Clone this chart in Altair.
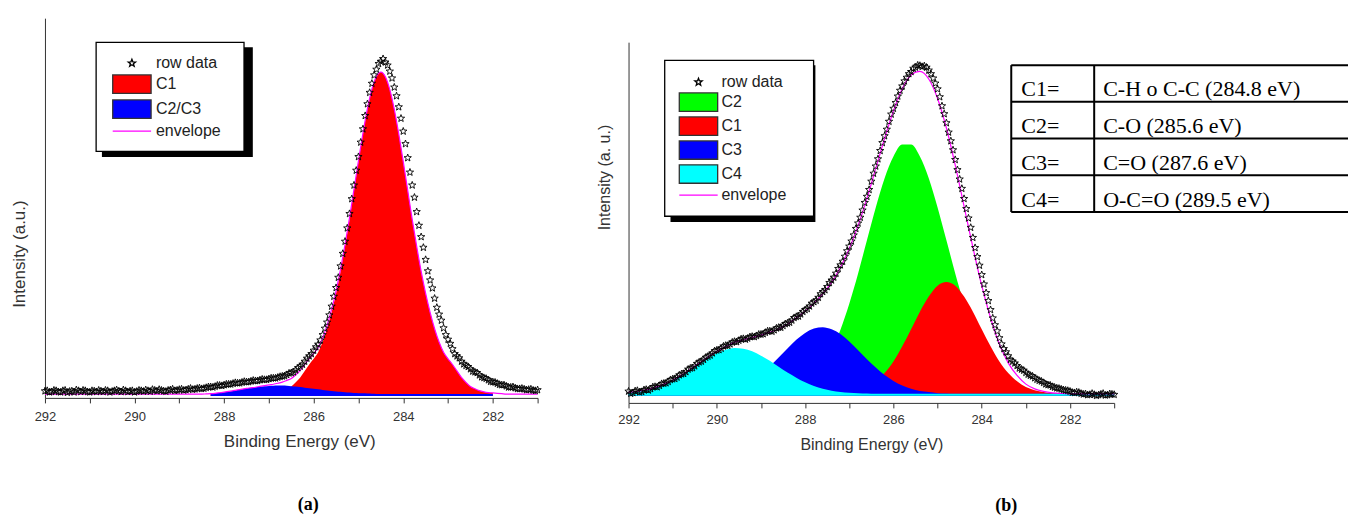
import altair as alt
import pandas as pd

# ---------------- data ----------------
energy_grid = [
    292.0, 291.9, 291.8, 291.7, 291.6, 291.5, 291.4, 291.3, 291.2, 291.1,
    291.0, 290.9, 290.8, 290.7, 290.6, 290.5, 290.4, 290.3, 290.2, 290.1,
    290.0, 289.9, 289.8, 289.7, 289.6, 289.5, 289.4, 289.3, 289.2, 289.1,
    289.0, 288.9, 288.8, 288.7, 288.6, 288.5, 288.4, 288.3, 288.2, 288.1,
    288.0, 287.9, 287.8, 287.7, 287.6, 287.5, 287.4, 287.3, 287.2, 287.1,
    287.0, 286.9, 286.8, 286.7, 286.6, 286.5, 286.4, 286.3, 286.2, 286.1,
    286.0, 285.9, 285.8, 285.7, 285.6, 285.5, 285.4, 285.3, 285.2, 285.1,
    285.0, 284.9, 284.8, 284.7, 284.6, 284.5, 284.4, 284.3, 284.2, 284.1,
    284.0, 283.9, 283.8, 283.7, 283.6, 283.5, 283.4, 283.3, 283.2, 283.1,
    283.0, 282.9, 282.8, 282.7, 282.6, 282.5, 282.4, 282.3, 282.2, 282.1,
    282.0, 281.9, 281.8, 281.7, 281.6, 281.5, 281.4, 281.3, 281.2, 281.1,
    281.0,
]
energy_grid_mid = [
    291.95, 291.85, 291.75, 291.65, 291.55, 291.45, 291.35, 291.25, 291.15, 291.05,
    290.95, 290.85, 290.75, 290.65, 290.55, 290.45, 290.35, 290.25, 290.15, 290.05,
    289.95, 289.85, 289.75, 289.65, 289.55, 289.45, 289.35, 289.25, 289.15, 289.05,
    288.95, 288.85, 288.75, 288.65, 288.55, 288.45, 288.35, 288.25, 288.15, 288.05,
    287.95, 287.85, 287.75, 287.65, 287.55, 287.45, 287.35, 287.25, 287.15, 287.05,
    286.95, 286.85, 286.75, 286.65, 286.55, 286.45, 286.35, 286.25, 286.15, 286.05,
    285.95, 285.85, 285.75, 285.65, 285.55, 285.45, 285.35, 285.25, 285.15, 285.05,
    284.95, 284.85, 284.75, 284.65, 284.55, 284.45, 284.35, 284.25, 284.15, 284.05,
    283.95, 283.85, 283.75, 283.65, 283.55, 283.45, 283.35, 283.25, 283.15, 283.05,
    282.95, 282.85, 282.75, 282.65, 282.55, 282.45, 282.35, 282.25, 282.15, 282.05,
    281.95, 281.85, 281.75, 281.65, 281.55, 281.45, 281.35, 281.25, 281.15, 281.05,
]

# panel (a)
left_row_data = [
    1.8, 1.5, 2.0, 1.6, 1.9, 1.4, 1.8, 2.1, 1.6, 1.9,
    1.5, 1.8, 2.0, 1.6, 1.9, 1.7, 2.1, 1.6, 1.9, 1.8,
    1.5, 2.0, 1.7, 1.9, 2.2, 1.8, 2.0, 1.7, 2.1, 1.9,
    2.2, 2.0, 2.3, 2.2, 2.5, 2.4, 2.7, 2.9, 3.0, 3.3,
    3.4, 3.6, 3.8, 3.9, 4.1, 4.2, 4.4, 4.5, 4.7, 4.8,
    5.0, 5.2, 5.4, 5.7, 6.1, 6.6, 7.3, 8.3, 9.6, 11.0,
    12.5, 14.1, 16.6, 19.9, 24.1, 29.0, 34.7, 41.2, 48.5, 56.0,
    63.5, 70.8, 77.4, 82.8, 86.5, 88.6, 88.4, 86.0, 81.8, 76.6,
    70.2, 63.2, 56.0, 49.0, 42.4, 36.4, 31.0, 26.2, 22.0, 18.4,
    15.4, 12.9, 11.0, 9.6, 8.5, 7.6, 6.8, 6.0, 5.3, 4.7,
    4.2, 3.8, 3.4, 3.1, 2.8, 2.6, 2.4, 2.3, 2.2, 2.0,
    2.1,
]
left_row_data_mid = [
    1.9, 1.6, 1.9, 1.5, 2.0, 1.7, 1.5, 1.9, 2.0, 1.6,
    1.9, 1.6, 1.8, 2.0, 1.5, 1.9, 1.8, 2.1, 1.6, 1.9,
    1.7, 1.9, 2.1, 1.7, 2.0, 2.2, 1.8, 2.0, 2.3, 2.0,
    2.3, 2.1, 2.5, 2.3, 2.6, 2.5, 2.9, 2.8, 3.3, 3.2,
    3.6, 3.6, 4.0, 3.9, 4.3, 4.2, 4.6, 4.5, 4.9, 4.8,
    5.2, 5.2, 5.6, 5.8, 6.5, 6.8, 7.9, 8.8, 10.4, 11.6,
    13.4, 15.2, 18.3, 21.8, 26.7, 31.7, 38.0, 44.7, 52.4, 59.9,
    67.3, 74.3, 80.4, 85.0, 88.0, 89.3, 87.6, 84.2, 79.5, 73.6,
    66.9, 59.4, 52.8, 45.4, 39.6, 33.4, 28.9, 23.8, 20.4, 16.6,
    14.3, 11.6, 10.5, 8.9, 8.2, 7.0, 6.6, 5.5, 5.1, 4.3,
    4.1, 3.5, 3.4, 2.8, 2.9, 2.4, 2.5, 2.1, 2.3, 1.9,
]
left_envelope = [
    1.0, 1.0, 1.0, 1.0, 1.0, 1.0, 1.0, 1.0, 1.0, 1.0,
    1.0, 1.0, 1.0, 1.0, 1.0, 1.0, 1.0, 1.0, 1.0, 1.0,
    1.0, 1.0, 1.0, 1.0, 1.0, 1.0, 1.0, 1.0, 1.0, 1.0,
    1.0, 1.0, 1.0, 1.0, 1.0, 1.0, 1.05, 1.1, 1.2, 1.35,
    1.5, 1.7, 1.9, 2.1, 2.3, 2.5, 2.65, 2.8, 3.05, 3.25,
    3.45, 3.6, 3.85, 4.15, 4.6, 5.1, 6.1, 7.25, 8.8, 10.35,
    11.7, 13.25, 15.8, 19.15, 23.3, 28.2, 33.9, 40.4, 47.4, 54.9,
    62.45, 69.7, 76.15, 81.3, 84.65, 85.8, 84.6, 81.2, 76.0, 69.5,
    62.2, 54.6, 47.0, 39.9, 33.3, 27.5, 22.5, 18.2, 14.7, 12.0,
    10.3, 8.8, 7.1, 5.4, 4.1, 3.0, 2.4, 1.9, 1.6, 1.4,
    1.3, 1.2, 1.1, 1.0, 1.0, 1.0, 1.0, 1.0, 1.0, 1.0,
    1.0,
]
left_fit_energy = [
    288.3, 288.2, 288.1, 288.0, 287.9, 287.8, 287.7, 287.6, 287.5, 287.4,
    287.3, 287.2, 287.1, 287.0, 286.9, 286.8, 286.7, 286.6, 286.5, 286.4,
    286.3, 286.2, 286.1, 286.0, 285.9, 285.8, 285.7, 285.6, 285.5, 285.4,
    285.3, 285.2, 285.1, 285.0, 284.9, 284.8, 284.7, 284.6, 284.5, 284.4,
    284.3, 284.2, 284.1, 284.0, 283.9, 283.8, 283.7, 283.6, 283.5, 283.4,
    283.3, 283.2, 283.1, 283.0, 282.9, 282.8, 282.7, 282.6, 282.5, 282.4,
    282.3, 282.2, 282.1, 282.0,
]
left_c1 = [
    1.0, 1.0, 1.0, 1.0, 1.0, 1.0, 1.0, 1.0, 1.0, 1.0,
    1.0, 1.1, 1.2, 1.3, 1.4, 1.6, 1.9, 2.4, 3.0, 4.1,
    5.4, 7.1, 8.8, 10.3, 12.0, 14.7, 18.2, 22.5, 27.5, 33.3,
    39.9, 47.0, 54.6, 62.2, 69.5, 76.0, 81.2, 84.6, 85.8, 84.6,
    81.2, 76.0, 69.5, 62.2, 54.6, 47.0, 39.9, 33.3, 27.5, 22.5,
    18.2, 14.7, 12.0, 10.3, 8.8, 7.1, 5.4, 4.1, 3.0, 2.4,
    1.9, 1.6, 1.4, 1.3,
]
left_c2c3 = [
    1.1, 1.2, 1.35, 1.5, 1.7, 1.9, 2.1, 2.3, 2.5, 2.65,
    2.8, 2.95, 3.05, 3.15, 3.2, 3.25, 3.25, 3.2, 3.1, 3.0,
    2.85, 2.7, 2.55, 2.4, 2.25, 2.1, 1.95, 1.8, 1.7, 1.6,
    1.5, 1.4, 1.3, 1.25, 1.2, 1.15, 1.1, 1.05, 1.0, 1.0,
    1.0, 1.0, 1.0, 1.0, 1.0, 1.0, 1.0, 1.0, 1.0, 1.0,
    1.0, 1.0, 1.0, 1.0, 1.0, 1.0, 1.0, 1.0, 1.0, 1.0,
    1.0, 1.0, 1.0, 1.0,
]

# panel (b)
right_row_data = [
    3.2, 2.8, 3.4, 3.1, 3.7, 3.9, 4.5, 4.8, 5.4, 5.9,
    6.6, 7.1, 8.0, 8.6, 9.6, 10.2, 11.3, 12.0, 12.9, 13.8,
    14.6, 15.1, 15.9, 16.3, 17.0, 17.3, 17.8, 17.9, 18.4, 18.6,
    19.0, 19.5, 19.9, 20.2, 20.9, 21.4, 22.1, 22.9, 23.9, 24.6,
    25.8, 26.8, 28.0, 29.2, 30.8, 32.2, 34.0, 35.9, 38.2, 40.6,
    43.4, 46.5, 49.8, 53.4, 57.2, 61.4, 65.6, 69.9, 74.0, 78.0,
    81.6, 85.0, 87.8, 90.2, 91.8, 93.0, 93.5, 93.4, 92.2, 90.0,
    87.0, 82.3, 77.6, 72.6, 67.4, 62.0, 56.6, 51.2, 45.8, 40.5,
    35.5, 30.5, 25.8, 21.6, 18.0, 15.0, 13.0, 11.5, 10.3, 9.3,
    8.4, 7.6, 6.9, 6.2, 5.6, 5.0, 4.5, 4.1, 3.8, 3.5,
    3.2, 2.8, 2.9, 2.4, 2.2, 2.6, 2.0, 2.4, 2.1, 2.5,
    2.3,
]
right_row_data_mid = [
    2.6, 3.3, 3.0, 3.6, 3.5, 4.4, 4.4, 5.3, 5.5, 6.4,
    6.7, 7.7, 8.1, 9.3, 9.7, 10.9, 11.5, 12.6, 13.2, 14.4,
    14.7, 15.7, 15.9, 16.8, 16.9, 17.7, 17.6, 18.3, 18.3, 19.0,
    19.1, 19.9, 19.8, 20.7, 20.9, 21.9, 22.3, 23.6, 24.0, 25.3,
    26.1, 27.6, 28.4, 30.2, 31.3, 33.3, 34.8, 37.2, 39.2, 42.1,
    44.8, 48.3, 51.4, 55.5, 59.1, 63.6, 67.6, 72.1, 75.8, 80.0,
    83.2, 86.6, 89.2, 91.2, 92.7, 93.6, 93.2, 93.0, 91.2, 88.6,
    84.8, 80.1, 75.0, 70.1, 64.6, 59.4, 53.8, 48.6, 43.0, 38.1,
    32.9, 28.3, 23.5, 19.9, 16.3, 14.1, 12.0, 11.0, 9.6, 9.0,
    7.9, 7.4, 6.5, 6.0, 5.2, 4.9, 4.3, 4.0, 3.6, 3.4,
    2.9, 3.0, 2.6, 2.5, 2.3, 2.3, 2.2, 2.6, 2.2, 2.4,
]
right_fit_energy = [
    292.0, 291.8, 291.6, 291.4, 291.2, 291.0, 290.8, 290.6, 290.4, 290.2,
    290.0, 289.8, 289.6, 289.4, 289.2, 289.0, 288.8, 288.6, 288.4, 288.2,
    288.0, 287.8, 287.6, 287.4, 287.2, 287.0, 286.8, 286.6, 286.4, 286.2,
    286.0, 285.8, 285.6, 285.4, 285.2, 285.0, 284.8, 284.6, 284.4, 284.2,
    284.0, 283.8, 283.6, 283.4, 283.2, 283.0, 282.8, 282.6, 282.4, 282.2,
    282.0, 281.8, 281.6, 281.4, 281.2, 281.0,
]
right_c2 = [
    2.5, 2.5, 2.5, 2.5, 2.5, 2.5, 2.5, 2.5, 2.5, 2.5,
    2.5, 2.5, 2.5, 2.5, 2.5, 2.6, 2.7, 2.9, 3.3, 4.1,
    5.3, 7.3, 10.4, 14.6, 20.3, 27.5, 35.9, 45.1, 54.2, 62.3,
    68.3, 71.6, 71.6, 68.3, 62.3, 54.2, 45.1, 35.9, 27.5, 20.3,
    14.6, 10.4, 7.3, 5.3, 4.1, 3.3, 2.9, 2.7, 2.6, 2.5,
    2.5, 2.5, 2.5, 2.5, 2.5, 2.5,
]
right_c1 = [
    2.5, 2.5, 2.5, 2.5, 2.5, 2.5, 2.5, 2.5, 2.5, 2.5,
    2.5, 2.5, 2.5, 2.5, 2.5, 2.5, 2.5, 2.5, 2.5, 2.5,
    2.5, 2.5, 2.5, 2.5, 2.7, 3.0, 3.5, 4.4, 6.0, 8.3,
    11.5, 15.7, 20.4, 25.3, 29.5, 32.5, 33.5, 32.5, 29.5, 25.3,
    20.4, 15.7, 11.5, 8.3, 6.0, 4.4, 3.5, 3.0, 2.7, 2.6,
    2.5, 2.5, 2.5, 2.5, 2.5, 2.5,
]
right_c3 = [
    2.5, 2.5, 2.5, 2.5, 2.5, 2.5, 2.5, 2.6, 2.6, 2.8,
    3.0, 3.4, 4.1, 5.0, 6.3, 8.1, 10.2, 12.6, 15.1, 17.5,
    19.4, 20.6, 21.0, 20.4, 19.1, 17.0, 14.6, 12.1, 9.8, 7.7,
    6.1, 4.8, 3.9, 3.3, 3.0, 2.7, 2.6, 2.5, 2.5, 2.5,
    2.5, 2.5, 2.5, 2.5, 2.5, 2.5, 2.5, 2.5, 2.5, 2.5,
    2.5, 2.5, 2.5, 2.5, 2.5, 2.5,
]
right_c4 = [
    2.9, 3.2, 3.6, 4.3, 5.2, 6.3, 7.7, 9.2, 10.9, 12.4,
    13.8, 14.7, 15.2, 15.0, 14.3, 13.1, 11.7, 10.0, 8.4, 7.0,
    5.7, 4.7, 3.9, 3.4, 3.0, 2.8, 2.7, 2.6, 2.5, 2.5,
    2.5, 2.5, 2.5, 2.5, 2.5, 2.5, 2.5, 2.5, 2.5, 2.5,
    2.5, 2.5, 2.5, 2.5, 2.5, 2.5, 2.5, 2.5, 2.5, 2.5,
    2.5, 2.5, 2.5, 2.5, 2.5, 2.5,
]
right_envelope = [
    2.9, 3.2, 3.6, 4.3, 5.2, 6.3, 7.7, 9.3, 11.0, 12.7,
    14.3, 15.6, 16.8, 17.5, 18.1, 18.8, 19.6, 20.5, 21.8, 23.6,
    25.4, 27.6, 30.3, 33.4, 37.6, 42.8, 49.2, 56.7, 65.0, 73.3,
    80.9, 87.1, 90.9, 91.9, 89.8, 84.4, 76.2, 65.9, 54.5, 43.1,
    32.5, 23.6, 16.3, 11.1, 7.6, 5.2, 3.9, 3.2, 2.8, 2.6,
    2.5, 2.5, 2.5, 2.5, 2.5, 2.5,
]

x_tick_values = [292, 291, 290, 289, 288, 287, 286, 285, 284, 283, 282, 281]
left_series = ["row data", "C1", "C2/C3", "envelope"]
right_series = ["row data", "C2", "C1", "C3", "C4", "envelope"]
table_labels = ["C1=", "C2=", "C3=", "C4="]
table_desc = ["C-H o C-C (284.8 eV)", "C-O (285.6 eV)", "C=O (287.6 eV)", "O-C=O (289.5 eV)"]
table_rows = [0, 1, 2, 3]
table_row_lines = [0, 1, 2, 3, 4]
table_col_lines = [0, 83]

# ---------------- styles ----------------
FONT = "Liberation Sans"
SERIF = "Liberation Serif"
AXC = "#333333"
STAR = ("M0,-0.48L0.118,-0.162L0.456,-0.148L0.19,0.062L0.282,0.388L0,0.2"
        "L-0.282,0.388L-0.19,0.062L-0.456,-0.148L-0.118,-0.162Z")
BOX = "M-2.4,-1.15L2.4,-1.15L2.4,1.15L-2.4,1.15Z"
LINE = "M-2.4,0L2.4,0"
RED, GREEN, BLUE, CYAN, MAG = "#ff0000", "#00ff00", "#0000ff", "#00ffff", "#ff00ff"


def x_axis(title_size, label_pad, title_x=None):
    kw = dict(values=x_tick_values, format="d",
              labelExpr="datum.value % 2 == 0 ? datum.label : ''",
              tickSize=5, tickColor=AXC, domainColor=AXC, grid=False,
              labelFont=FONT, labelFontSize=13, labelColor=AXC,
              labelPadding=label_pad, labelFlush=False, labelOverlap=False,
              title="Binding Energy (eV)", titleFont=FONT, titleFontSize=title_size,
              titleFontWeight="normal", titleColor=AXC, titlePadding=10)
    if title_x is not None:
        kw["titleX"] = title_x
    return alt.Axis(**kw)


def y_axis(title, size, tx, ty):
    return alt.Axis(labels=False, ticks=False, grid=False, domainColor=AXC,
                    title=title, titleFont=FONT, titleFontSize=size,
                    titleFontWeight="normal", titleColor=AXC, titleX=tx, titleY=ty,
                    titleBaseline="middle", titleAlign="center", titleAngle=270)


def legend(lx, ly, pad, row_pad, sym_off, lab_off, extra_right):
    # a blank title on the right only widens the box, as in the original figure
    return alt.Legend(title=" ", titleOrient="right", titlePadding=extra_right,
                      titleFontSize=8, orient="none", legendX=lx, legendY=ly,
                      padding=pad, rowPadding=row_pad, symbolOffset=sym_off,
                      labelOffset=lab_off, labelFont=FONT, labelFontSize=16,
                      labelColor="#222222", symbolSize=256, symbolStrokeWidth=1.3,
                      strokeColor="black", fillColor="white", labelLimit=300)


def star_layer(df, x, y, series, fills, strokes, shapes, leg):
    return alt.Chart(df).mark_point(size=256, strokeWidth=0.9, opacity=1).encode(
        x=x, y=y,
        shape=alt.Shape("series:N", scale=alt.Scale(domain=series, range=shapes), legend=leg),
        fill=alt.Fill("series:N", scale=alt.Scale(domain=series, range=fills), legend=leg),
        stroke=alt.Stroke("series:N", scale=alt.Scale(domain=series, range=strokes), legend=leg),
    )


def raw_frame(values, values_mid):
    return pd.concat([
        pd.DataFrame({"E": energy_grid, "I": values}),
        pd.DataFrame({"E": energy_grid_mid, "I": values_mid}),
    ], ignore_index=True).assign(series="row data")


def shadow(x0, x1, y0, y1):
    # drop shadow drawn behind the legend box
    return alt.Chart(pd.DataFrame({"k": [0]})).mark_rect(color="black").encode(
        x=alt.value(x0), x2=alt.value(x1), y=alt.value(y0), y2=alt.value(y1))


# ---------------- panel (a) ----------------
xs_l = alt.Scale(domain=[292, 281], nice=False, zero=False)
ys_l = alt.Scale(domain=[0, 100], nice=False, zero=False)
xl = alt.X("E:Q", scale=xs_l, axis=x_axis(17, 8, 254.5))
yax_l = y_axis("Intensity (a.u.)", 17, -25.5, 235.6)

fit_l = pd.DataFrame({"E": left_fit_energy, "C1": left_c1, "C23": left_c2c3})
env_l = pd.DataFrame({"E": energy_grid, "I": left_envelope})
raw_l = raw_frame(left_row_data, left_row_data_mid)

a_c1 = alt.Chart(fit_l).mark_area(color=RED, interpolate="monotone", opacity=1).encode(
    x=xl, y=alt.Y("C1:Q", scale=ys_l, axis=yax_l), y2=alt.datum(0.5))
a_c23 = alt.Chart(fit_l).mark_area(color=BLUE, interpolate="monotone", opacity=1).encode(
    x=xl, y=alt.Y("C23:Q", scale=ys_l, axis=yax_l), y2=alt.datum(0.5))
a_env = alt.Chart(env_l).mark_line(color=MAG, strokeWidth=1.2, interpolate="monotone").encode(
    x=xl, y=alt.Y("I:Q", scale=ys_l, axis=yax_l))
a_raw = star_layer(raw_l, xl, alt.Y("I:Q", scale=ys_l, axis=yax_l), left_series,
                   ["transparent", RED, BLUE, "transparent"],
                   ["#000000", AXC, AXC, MAG], [STAR, BOX, BOX, LINE],
                   legend(51, 24, 12, 1, 15, 15, 11))

left = alt.layer(shadow(57, 208, 29, 139), a_c1, a_c23, a_env, a_raw).properties(
    width=493, height=380,
    title=alt.TitleParams("(a)", orient="bottom", anchor="middle", frame="group",
                          font=SERIF, fontSize=18, fontWeight="bold", color="black",
                          offset=46, dx=17))

# ---------------- panel (b) ----------------
xs_r = alt.Scale(domain=[292, 281], range=[0, 486], nice=False, zero=False)
ys_r = alt.Scale(domain=[0, 100], range=[385, 24], nice=False, zero=False)
xr = alt.X("E:Q", scale=xs_r, axis=x_axis(16, 6))
yax_r = y_axis("Intensity (a. u.)", 16, -24, 159)

fit_r = pd.DataFrame({"E": right_fit_energy, "C1": right_c1, "C2": right_c2,
                      "C3": right_c3, "C4": right_c4, "ENV": right_envelope})
raw_r = raw_frame(right_row_data, right_row_data_mid)


def comp(field, color):
    return alt.Chart(fit_r).mark_area(color=color, interpolate="monotone", opacity=1).encode(
        x=xr, y=alt.Y(field + ":Q", scale=ys_r, axis=yax_r), y2=alt.datum(2.0))


b_env = alt.Chart(fit_r).mark_line(color=MAG, strokeWidth=1.2, interpolate="monotone").encode(
    x=xr, y=alt.Y("ENV:Q", scale=ys_r, axis=yax_r))
b_raw = star_layer(raw_r, xr, alt.Y("I:Q", scale=ys_r, axis=yax_r), right_series,
                   ["transparent", GREEN, RED, BLUE, CYAN, "transparent"],
                   ["#000000", AXC, AXC, AXC, AXC, MAG],
                   [STAR, BOX, BOX, BOX, BOX, LINE],
                   legend(36, 42, 13, 0, 12, 14, 14))
spectra = alt.layer(shadow(42, 187, 47, 204), comp("C2", GREEN), comp("C1", RED),
                    comp("C3", BLUE), comp("C4", CYAN), b_env, b_raw)

# table of assignments
tx = alt.Scale(domain=[0, 337], range=[383, 720], nice=False, zero=False)
ty = alt.Scale(domain=[0, 4], range=[47, 194], nice=False, zero=False)
tab_df = pd.DataFrame({"row": table_rows, "label": table_labels, "desc": table_desc})
hl = alt.Chart(pd.DataFrame({"b": table_row_lines})).mark_rule(color="black", strokeWidth=2).encode(
    y=alt.Y("b:Q", scale=ty, axis=None),
    x=alt.X(datum=0, type="quantitative", scale=tx, axis=None), x2=alt.datum(337))
vl = alt.Chart(pd.DataFrame({"c": table_col_lines})).mark_rule(color="black", strokeWidth=2).encode(
    x=alt.X("c:Q", scale=tx, axis=None),
    y=alt.Y(datum=0, type="quantitative", scale=ty, axis=None), y2=alt.datum(4))
t1 = alt.Chart(tab_df).transform_calculate(mid="datum.row + 0.5").mark_text(
    align="left", baseline="middle", font=SERIF, fontSize=22, color="black", dx=10, dy=6).encode(
    x=alt.X(datum=0, type="quantitative", scale=tx, axis=None),
    y=alt.Y("mid:Q", scale=ty, axis=None), text="label:N")
t2 = alt.Chart(tab_df).transform_calculate(mid="datum.row + 0.5").mark_text(
    align="left", baseline="middle", font=SERIF, fontSize=22, color="black", dx=9, dy=6).encode(
    x=alt.X(datum=83, type="quantitative", scale=tx, axis=None),
    y=alt.Y("mid:Q", scale=ty, axis=None), text="desc:N")
table = alt.layer(hl, vl, t1, t2)

right = alt.layer(spectra, table).resolve_scale(x="independent", y="independent").properties(
    width=486, height=385,
    title=alt.TitleParams("(b)", orient="bottom", anchor="middle", frame="group",
                          font=SERIF, fontSize=18, fontWeight="bold", color="black",
                          offset=44, dx=135))

chart = alt.hconcat(left, right, spacing=53).resolve_scale(
    shape="independent", fill="independent", stroke="independent"
).resolve_legend(
    shape="independent", fill="independent", stroke="independent"
).properties(
    padding={"left": 10, "top": 18, "right": 0, "bottom": 2}
).configure_view(stroke=None).configure_legend(strokeWidth=1.3)

chart.save("out.html", embed_options={"renderer": "svg", "actions": False})
